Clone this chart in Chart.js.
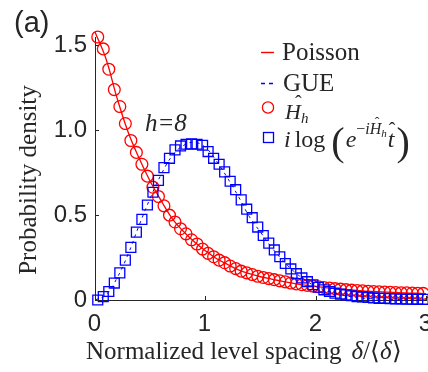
<!DOCTYPE html>
<html>
<head>
<meta charset="utf-8">
<script src="https://cdn.jsdelivr.net/npm/chart.js@4"></script>
<style>
  body { margin: 0; background: #fff; }
  canvas { display: block; }
</style>
</head>
<body>
<canvas id="spacingChart" width="428" height="372"></canvas>
<script>
// histogram bin centres (normalized spacing)
const binX = [0.025, 0.075, 0.125, 0.175, 0.225, 0.275, 0.325, 0.375, 0.425, 0.475,
  0.525, 0.575, 0.625, 0.675, 0.725, 0.775, 0.825, 0.875, 0.925, 0.975,
  1.025, 1.075, 1.125, 1.175, 1.225, 1.275, 1.325, 1.375, 1.425, 1.475,
  1.525, 1.575, 1.625, 1.675, 1.725, 1.775, 1.825, 1.875, 1.925, 1.975,
  2.025, 2.075, 2.125, 2.175, 2.225, 2.275, 2.325, 2.375, 2.425, 2.475,
  2.525, 2.575, 2.625, 2.675, 2.725, 2.775, 2.825, 2.875, 2.925, 2.975];

// red circles: H_h
const hamiltonian = [1.55, 1.48, 1.36, 1.24, 1.14, 1.04, 0.94, 0.87, 0.80, 0.73,
  0.665, 0.61, 0.555, 0.50, 0.46, 0.42, 0.39, 0.355, 0.33, 0.30,
  0.275, 0.255, 0.235, 0.22, 0.20, 0.185, 0.17, 0.16, 0.15, 0.14,
  0.133, 0.126, 0.12, 0.113, 0.107, 0.10, 0.095, 0.09, 0.086, 0.082,
  0.078, 0.074, 0.07, 0.067, 0.064, 0.061, 0.058, 0.056, 0.054, 0.052,
  0.05, 0.048, 0.047, 0.045, 0.044, 0.043, 0.042, 0.041, 0.04, 0.039];

// blue squares: i log(e^{-iH t})
const floquet = [0.00, 0.02, 0.05, 0.10, 0.16, 0.235, 0.31, 0.40, 0.475, 0.56,
  0.635, 0.705, 0.78, 0.835, 0.885, 0.908, 0.918, 0.92, 0.918, 0.912,
  0.875, 0.835, 0.80, 0.755, 0.70, 0.65, 0.59, 0.535, 0.485, 0.43,
  0.38, 0.335, 0.295, 0.255, 0.215, 0.183, 0.155, 0.13, 0.108, 0.09,
  0.075, 0.06, 0.05, 0.04, 0.035, 0.03, 0.025, 0.02, 0.018, 0.015,
  0.012, 0.01, 0.01, 0.008, 0.007, 0.006, 0.005, 0.005, 0.004, 0.004];

// reference curves
const curveX = [0, 0.1, 0.2, 0.3, 0.4, 0.5, 0.6, 0.7, 0.8, 0.9, 1.0,
  1.1, 1.2, 1.3, 1.4, 1.5, 1.6, 1.7, 1.8, 1.9, 2.0,
  2.1, 2.2, 2.3, 2.4, 2.5, 2.6, 2.7, 2.8, 2.9, 3.0];
const poisson = [1.58, 1.42, 1.19, 0.99, 0.835, 0.70, 0.585, 0.48, 0.405, 0.343, 0.29,
  0.245, 0.21, 0.178, 0.155, 0.137, 0.123, 0.11, 0.098, 0.088, 0.08,
  0.072, 0.066, 0.06, 0.055, 0.051, 0.048, 0.045, 0.042, 0.04, 0.038];
const gue = [0, 0.03, 0.13, 0.27, 0.44, 0.60, 0.74, 0.85, 0.91, 0.93, 0.90,
  0.82, 0.72, 0.61, 0.49, 0.40, 0.31, 0.235, 0.17, 0.12, 0.08,
  0.055, 0.035, 0.022, 0.013, 0.008, 0.005, 0.003, 0.002, 0.001, 0.0005];

const xTicks = [0, 1, 2, 3];
const xTickLabels = ['0', '1', '2', '3'];
const yTicks = [0, 0.5, 1, 1.5];
const yTickLabels = ['0', '0.5', '1.0', '1.5'];

const RED = '#ff0000';
const BLUE = '#0000ff';
const AXIS = '#262626';
const SERIF = '"Liberation Serif", "Times New Roman", serif';
const SANS = '"Liberation Sans", Arial, sans-serif';

const pts = (xs, ys) => xs.map((x, i) => ({ x: x, y: ys[i] }));

function txt(c, s, x, y, font, align) {
  c.font = font;
  c.textAlign = align || 'left';
  c.fillText(s, x, y);
  return x + c.measureText(s).width;
}

// inward ticks, x labels (allowed to run off the edge), titles, legend
const decorations = {
  id: 'decorations',
  afterDraw(chart) {
    const c = chart.ctx;
    const xs = chart.scales.x, ys = chart.scales.y, a = chart.chartArea;
    c.save();
    c.strokeStyle = AXIS;
    c.lineWidth = 1;
    c.fillStyle = AXIS;
    c.textBaseline = 'alphabetic';
    xTicks.forEach((v, i) => {
      const px = Math.round(xs.getPixelForValue(v)) + 0.5;
      c.beginPath(); c.moveTo(px, a.bottom); c.lineTo(px, a.bottom - 4); c.stroke();
      txt(c, xTickLabels[i], px - 1, 331, '24px ' + SANS, 'center');
    });
    yTicks.forEach(v => {
      const py = Math.round(ys.getPixelForValue(v)) + 0.5;
      c.beginPath(); c.moveTo(a.left, py); c.lineTo(a.left + 4, py); c.stroke();
    });

    txt(c, '(a)', 14, 32, '29px ' + SANS);

    // axis titles
    let x = txt(c, 'Normalized level spacing', 86, 359, '25px ' + SERIF);
    x = txt(c, 'δ', x + 10, 359, 'italic 25px ' + SERIF);
    x = txt(c, '/', x, 359, '25px ' + SERIF);
    x = txt(c, '⟨', x, 359, '25px ' + SERIF);
    x = txt(c, 'δ', x, 359, 'italic 25px ' + SERIF);
    txt(c, '⟩', x, 359, '25px ' + SERIF);

    c.save();
    c.translate(36, 180);
    c.rotate(-Math.PI / 2);
    txt(c, 'Probability density', 0, 0, '25px ' + SERIF, 'center');
    c.restore();

    txt(c, 'h=8', 145, 131, 'italic 25px ' + SERIF);

    // legend
    c.strokeStyle = RED;
    c.lineWidth = 1.4;
    c.beginPath(); c.moveTo(261, 52.5); c.lineTo(274, 52.5); c.stroke();
    txt(c, 'Poisson', 282, 60, '25px ' + SERIF);

    c.strokeStyle = BLUE;
    c.lineWidth = 1.5;
    c.setLineDash([4, 4]);
    c.beginPath(); c.moveTo(261, 83.5); c.lineTo(276, 83.5); c.stroke();
    c.setLineDash([]);
    txt(c, 'GUE', 283, 91, '25px ' + SERIF);

    c.strokeStyle = RED;
    c.lineWidth = 1.3;
    c.beginPath(); c.arc(268, 107.5, 5.6, 0, Math.PI * 2); c.stroke();
    x = txt(c, 'H', 285, 119, 'italic 22px ' + SERIF);
    txt(c, 'ˆ', 295, 110, '20px ' + SERIF);
    txt(c, 'h', x, 123, 'italic 15px ' + SERIF);

    c.strokeStyle = BLUE;
    c.lineWidth = 1.3;
    c.strokeRect(263.5, 132.5, 10, 10);
    x = txt(c, 'i', 284, 147, 'italic 24px ' + SERIF);
    x = txt(c, 'log', x + 4, 147, '24px ' + SERIF);
    x = txt(c, '(', x + 6, 155, '40px ' + SERIF);
    x = txt(c, 'e', x + 1, 147, 'italic 24px ' + SERIF);
    x = txt(c, '−', x, 134, '16px ' + SERIF);
    x = txt(c, 'i', x, 134, 'italic 16px ' + SERIF);
    const hx = x;
    x = txt(c, 'H', x, 134, 'italic 16px ' + SERIF);
    txt(c, 'ˆ', hx + 5, 127, '14px ' + SERIF);
    x = txt(c, 'h', x, 137, 'italic 11px ' + SERIF);
    const tx = x + 1;
    x = txt(c, 't', tx, 147, 'italic 24px ' + SERIF);
    txt(c, 'ˆ', tx + 1, 137, '20px ' + SERIF);
    txt(c, ')', x + 2, 155, '40px ' + SERIF);
    c.restore();
  }
};

const ctx = document.getElementById('spacingChart').getContext('2d');
new Chart(ctx, {
  type: 'line',
  data: {
    datasets: [
      {
        label: 'i log(e^{-iHt})',
        data: pts(binX, floquet),
        showLine: false,
        pointStyle: 'rect',
        pointRadius: 7,
        pointBorderColor: BLUE,
        pointBackgroundColor: 'rgba(0,0,0,0)',
        pointBorderWidth: 1.3,
        clip: false
      },
      {
        label: 'GUE',
        data: pts(curveX, gue),
        borderColor: BLUE,
        borderWidth: 1,
        borderDash: [3, 4],
        pointRadius: 0,
        tension: 0.4,
        fill: false
      },
      {
        label: 'H_h',
        data: pts(binX, hamiltonian),
        showLine: false,
        pointStyle: 'circle',
        pointRadius: 5.9,
        pointBorderColor: RED,
        pointBackgroundColor: 'rgba(0,0,0,0)',
        pointBorderWidth: 1.3,
        clip: false
      },
      {
        label: 'Poisson',
        data: pts(curveX, poisson),
        borderColor: RED,
        borderWidth: 1.3,
        pointRadius: 0,
        tension: 0.4,
        fill: false,
        clip: false
      }
    ]
  },
  options: {
    responsive: false,
    animation: false,
    layout: { autoPadding: false, padding: { top: 37, left: 0, right: 2, bottom: 0 } },
    plugins: {
      legend: { display: false },
      tooltip: { enabled: false }
    },
    scales: {
      x: {
        type: 'linear',
        min: 0,
        max: 3,
        afterBuildTicks: s => { s.ticks = xTicks.map(v => ({ value: v })); },
        afterFit: s => { s.height = 72; },
        ticks: { display: false },
        grid: { drawOnChartArea: false, drawTicks: false },
        border: { color: AXIS, width: 1 }
      },
      y: {
        min: 0,
        max: 1.55,
        afterBuildTicks: s => { s.ticks = yTicks.map(v => ({ value: v })); },
        afterFit: s => { s.width = 95; s.paddingTop = 0; },
        ticks: {
          padding: 8,
          color: AXIS,
          font: { family: SANS, size: 24 },
          callback: (v, i) => yTickLabels[i]
        },
        grid: { drawOnChartArea: false, drawTicks: false },
        border: { color: AXIS, width: 1 }
      }
    }
  },
  plugins: [decorations]
});
</script>
</body>
</html>
